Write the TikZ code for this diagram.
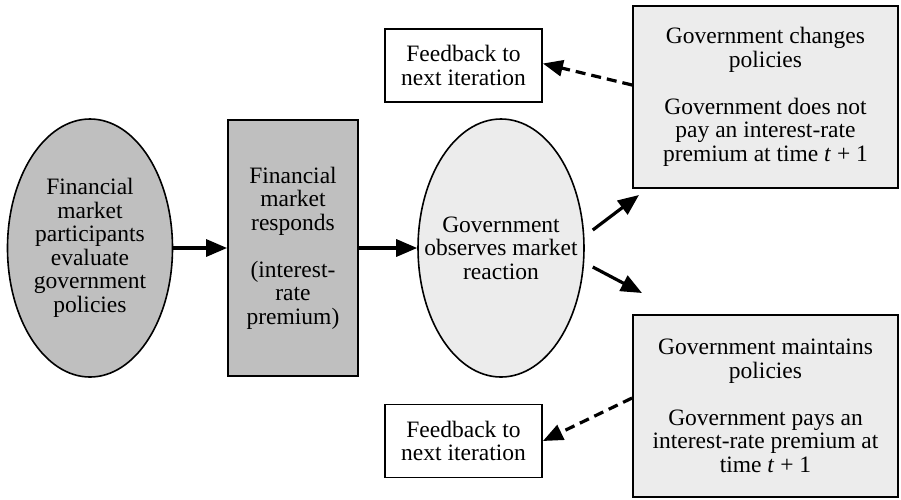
\documentclass[tikz,border=0pt]{standalone}
\usepackage{fontspec}
\setmainfont{Liberation Serif}
\usetikzlibrary{shapes,arrows.meta,positioning}

\definecolor{darkgrey}{gray}{0.75}
\definecolor{lightgrey}{gray}{0.925}

\begin{document}
\begin{tikzpicture}[x=1pt, y=-1pt, >={Triangle[length=21pt,width=17pt]},
    every node/.style={font=\fontsize{23.5}{23.5}\selectfont, align=center, inner sep=0pt},
    oval/.style={ellipse, draw, line width=1.6pt, inner sep=-18pt, minimum width=165pt, minimum height=258pt},
    box/.style={rectangle, draw, line width=1.8pt},
    flow/.style={-{Triangle[length=21pt,width=17pt]}, line width=3.2pt},
    feedback/.style={-{Triangle[length=20pt,width=16pt]}, line width=3.2pt, dash pattern=on 10pt off 6pt}]
    \useasboundingbox (0,0) rectangle (901,499);

    \node[oval, fill=darkgrey] (evaluate) at (90,248) {Financial\\market\\participants\\evaluate\\government\\policies};
    \node[box, fill=darkgrey, minimum width=130pt, minimum height=256pt] (respond) at (293,248)
        {Financial\\market\\responds\\[23.5pt](interest-\\rate\\premium)};
    \node[oval, fill=lightgrey] (observe) at (501,248) {Government\\observes market\\reaction};

    \node[box, fill=lightgrey, minimum width=265pt, minimum height=182pt] (changes) at (765.5,97)
        {Government changes\\policies\\[23.5pt]Government does not\\pay an interest-rate\\premium at time \textit{t} + 1};
    \node[box, fill=lightgrey, minimum width=265pt, minimum height=182pt] (keeps) at (765.5,406)
        {Government maintains\\policies\\[23.5pt]Government pays an\\interest-rate premium at\\time \textit{t} + 1};

    \node[box, minimum width=157pt, minimum height=73pt] (fbtop) at (463.5,65.5) {Feedback to\\next iteration};
    \node[box, minimum width=157pt, minimum height=73pt] (fbbot) at (463.5,441) {Feedback to\\next iteration};

    \coordinate (up) at (639,195);
    \coordinate (down) at (642,293);

    \draw[flow] (evaluate.east) -- (respond.west);
    \draw[flow] (respond.east) -- (observe.west);
    \draw[flow] ([shift={(8pt,18pt)}]observe.east) -- (up);
    \draw[flow] ([shift={(8pt,-19pt)}]observe.east) -- (down);

    \draw[feedback] ([yshift=12pt]changes.west) -- ([yshift=2pt]fbtop.east);
    \draw[feedback] ([yshift=8pt]keeps.west) -- (fbbot.east);
\end{tikzpicture}
\end{document}
